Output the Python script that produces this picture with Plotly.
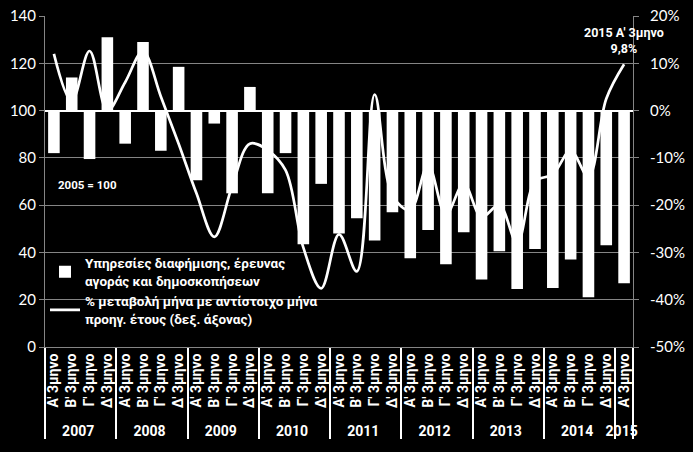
import plotly.graph_objects as go

# index values (2005 = 100), quarterly
year_labels = ['2007', '2008', '2009', '2010', '2011', '2012', '2013', '2014', '2015']
quarter_labels = ["Α' 3μηνο", "Β' 3μηνο", "Γ' 3μηνο", "Δ' 3μηνο"]
quarters_per_year = [4, 4, 4, 4, 4, 4, 4, 4, 1]

index_values = [82, 114, 79.5, 131,
                86, 129, 83, 118.5,
                70.5, 94.5, 65, 110,
                65, 82, 43.5, 69,
                48, 54.5, 45, 57,
                37.5, 49.5, 35, 48.5,
                28.5, 40.5, 24.5, 41.5,
                25, 37, 21, 43,
                27]

# % change vs same quarter of previous year (right axis)
pct_change = [12, 2, 12.6, 0,
              6, 12.5, 3, -7,
              -17.5, -26.7, -16, -7,
              -8.4, -12.6, -29, -37.6,
              -26.2, -34, 3.4, -18,
              -21, -11.5, -22, -15.5,
              -22.5, -20, -28, -15,
              -13.5, -8.5, -14, 2.5,
              9.8]

right_tick_vals = [-50, -40, -30, -20, -10, 0, 10, 20]
right_tick_text = ['-50%', '-40%', '-30%', '-20%', '-10%', '0%', '10%', '20%']

BASE = 100
NUM_FONT = 'Lato, Carlito, Open Sans, sans-serif'
GR_FONT = 'Roboto, Open Sans, Noto Sans, sans-serif'
GRID = '#858585'

x_years = []
x_quarters = []
for yr, n in zip(year_labels, quarters_per_year):
  for q in quarter_labels[:n]:
    x_years.append(yr)
    x_quarters.append(q)

bars = go.Bar(
  x=[x_years, x_quarters],
  y=[v - BASE for v in index_values],
  base=BASE,
  marker=dict(color='white', line=dict(width=0)),
  name='Υπηρεσίες διαφήμισης, έρευνας<br>αγοράς και δημοσκοπήσεων',
)

line = go.Scatter(
  x=[x_years, x_quarters],
  y=pct_change,
  yaxis='y2',
  mode='lines',
  line=dict(color='white', width=2.7, shape='spline', smoothing=1),
  name='% μεταβολή μήνα με αντίστοιχο μήνα<br>προηγ. έτους (δεξ. άξονας)',
)

fig = go.Figure(data=[bars, line])

fig.update_layout(
  width=693, height=452,
  paper_bgcolor='black', plot_bgcolor='black',
  margin=dict(l=45, r=60, t=16, b=105, autoexpand=False),
  font=dict(family=NUM_FONT, color='white', size=14),
  bargap=0.35,
  showlegend=True,
  legend=dict(
    x=0.0, y=0.30, xanchor='left', yanchor='top',
    bgcolor='rgba(0,0,0,0)',
    font=dict(family=GR_FONT, size=13.5, color='white', weight='bold'),
    tracegroupgap=2,
  ),
  xaxis=dict(
    type='multicategory',
    automargin=False,
    tickangle=-90,
    tickfont=dict(family=GR_FONT, size=14, color='white', weight='bold'),
    showdividers=True, dividercolor='white', dividerwidth=1.5,
    showline=True, linecolor=GRID, linewidth=1,
    showgrid=False,
  ),
  yaxis=dict(
    automargin=False,
    range=[0, 140], dtick=20,
    showgrid=True, gridcolor=GRID, gridwidth=1,
    showline=True, linecolor=GRID, linewidth=1,
    ticks='outside', ticklen=5, tickcolor=GRID,
    tickfont=dict(size=15, color='white'),
    zeroline=False,
  ),
  yaxis2=dict(
    automargin=False,
    overlaying='y', side='right',
    range=[-50, 20],
    tickvals=right_tick_vals, ticktext=right_tick_text,
    showgrid=False,
    showline=True, linecolor=GRID, linewidth=1,
    ticks='outside', ticklen=5, tickcolor=GRID, ticklabelstandoff=8,
    tickfont=dict(size=15, color='white'),
    zeroline=True, zerolinecolor='white', zerolinewidth=2,
  ),
  annotations=[
    dict(text='2005 = 100', xref='paper', yref='paper', x=0.073, y=0.489,
         xanchor='center', yanchor='middle', showarrow=False,
         font=dict(family=GR_FONT, size=11.5, color='white', weight='bold')),
    dict(text="2015 Α' 3μηνο<br>9,8%", xref='paper', yref='paper', x=0.985, y=0.927,
         xanchor='center', yanchor='middle', showarrow=False,
         font=dict(family=GR_FONT, size=12.5, color='white', weight='bold')),
  ],
)

fig.write_html("out.html", config={'displayModeBar': False},
               post_script="document.body.style.margin='0';document.body.style.background='black';")
